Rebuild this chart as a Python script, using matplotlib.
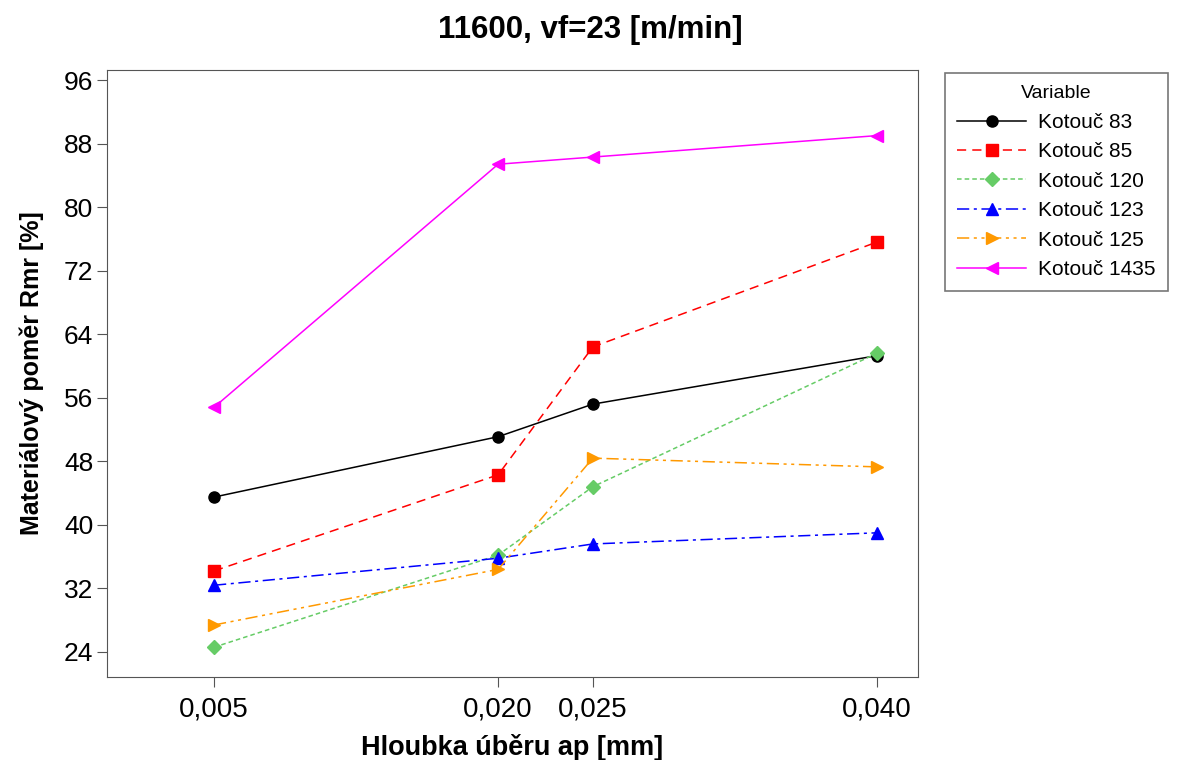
import matplotlib
matplotlib.use("Agg")
import matplotlib.pyplot as plt

plt.rcParams['font.family'] = ['Liberation Sans', 'DejaVu Sans']

x = [0.005, 0.020, 0.025, 0.040]
x_labels = ['0,005', '0,020', '0,025', '0,040']

k83 = [43.5, 51.1, 55.2, 61.3]
k85 = [34.2, 46.3, 62.4, 75.6]
k120 = [24.6, 36.2, 44.8, 61.6]
k123 = [32.4, 35.8, 37.6, 39.0]
k125 = [27.4, 34.4, 48.4, 47.3]
k1435 = [54.8, 85.4, 86.3, 89.0]

names = ['Kotouč 83', 'Kotouč 85', 'Kotouč 120', 'Kotouč 123', 'Kotouč 125', 'Kotouč 1435']
y_ticks = [24, 32, 40, 48, 56, 64, 72, 80, 88, 96]


def main():
    fig = plt.figure(figsize=(11.8, 7.6), dpi=100)
    ax = fig.add_axes([0.0907, 0.1092, 0.6873, 0.7987])

    series = [k83, k85, k120, k123, k125, k1435]
    colors = ['black', '#ff0000', '#66cc66', '#0000ff', '#ff9900', '#ff00ff']
    markers = ['o', 's', 'D', '^', '>', '<']
    sizes = [8, 8, 7, 9, 9, 9]
    styles = ['-', (0, (6, 4)), (0, (3, 2)), (0, (8, 3, 2, 3)), (0, (8, 3, 2, 3, 2, 3)), '-']

    for ys, name, c, m, ms, ls in zip(series, names, colors, markers, sizes, styles):
        ax.plot(x, ys, color=c, marker=m, markersize=ms, linestyle=ls,
                linewidth=1.1, label=name)

    ax.set_xlim(-0.00065, 0.04217)
    ax.set_ylim(20.85, 97.26)
    ax.set_xticks(x)
    ax.set_xticklabels(x_labels)
    ax.set_yticks(y_ticks)
    ax.tick_params(axis='y', labelsize=19, length=7, color='#555555', pad=3)
    ax.tick_params(axis='x', labelsize=20, length=7, color='#555555', pad=7)
    for s in ax.spines.values():
        s.set_color('#555555')

    ax.set_xlabel('Hloubka úběru ap [mm]', fontsize=19.5, fontweight='bold', labelpad=8)
    ax.set_ylabel('Materiálový poměr Rmr [%]', fontsize=18, fontweight='bold', labelpad=14)
    fig.text(0.5, 0.96, '11600, vf=23 [m/min]', fontsize=22.5, fontweight='bold',
             ha='center', va='center')

    leg = ax.legend(title='Variable', loc='upper left', bbox_to_anchor=(0.8008, 0.904),
                    bbox_transform=fig.transFigure, fontsize=15, title_fontsize=14,
                    frameon=True, fancybox=False, edgecolor='#555555',
                    handlelength=3.3, handletextpad=0.55, borderpad=0.6,
                    labelspacing=0.5, borderaxespad=0)
    leg.get_frame().set_linewidth(1.2)

    fig.savefig('out.png', dpi=100)


if __name__ == "__main__":
    main()
